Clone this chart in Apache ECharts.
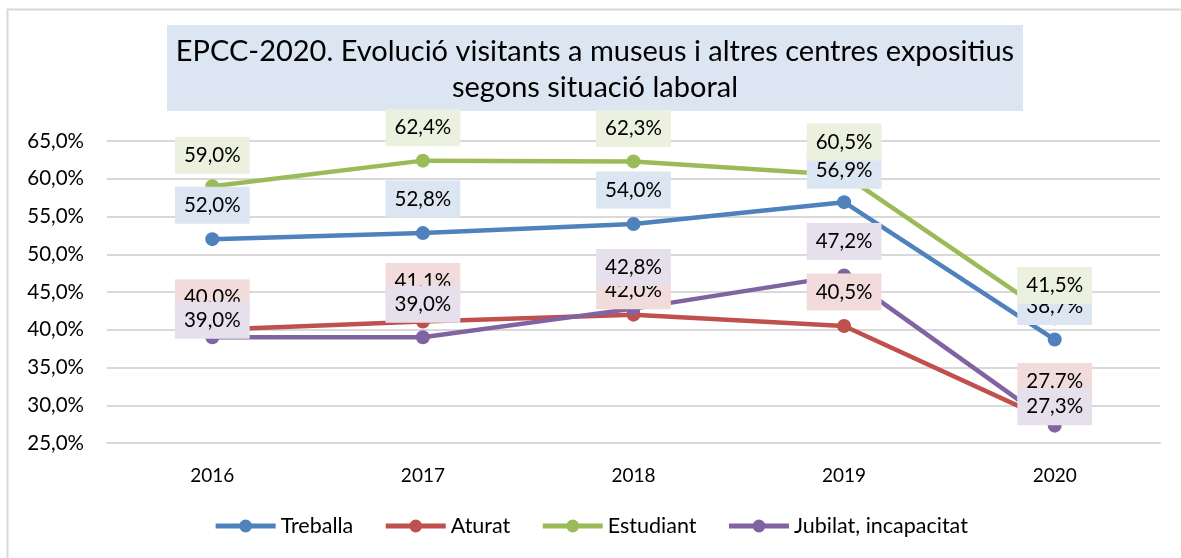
<!DOCTYPE html>
<html>
<head>
<meta charset="utf-8">
<script src="https://cdn.jsdelivr.net/npm/echarts@6/dist/echarts.min.js"></script>
<style>
	html, body { margin: 0; padding: 0; background: #fff; }
	#chart { width: 1181px; height: 558px; }
</style>
</head>
<body>
<div id="chart"></div>
<script>
// dades
var years = ['2016', '2017', '2018', '2019', '2020'];
var treballa = [52.0, 52.8, 54.0, 56.9, 38.7];
var aturat = [40.0, 41.1, 42.0, 40.5, 27.7];
var estudiant = [59.0, 62.4, 62.3, 60.5, 41.5];
var jubilat = [39.0, 39.0, 42.8, 47.2, 27.3];

// desplaçament vertical de cada etiqueta (px)
var offTreballa = [-34, -34, -34, -32, -33];
var offAturat = [-32, -40, -24, -34, -41];
var offEstudiant = [-31, -33, -33, -33, -33];
var offJubilat = [-17, -33, -41, -34, -19];

var FONT = 'Lato';

function fmt(v) {
	return v.toFixed(1).replace('.', ',') + '%';
}

function makeSeries(name, values, offsets, color, bg) {
	var data = [];
	for (var i = 0; i < values.length; i++) {
		data.push({
			value: values[i],
			label: {offset: [0, offsets[i]]}
		});
	}
	return {
		name: name,
		type: 'line',
		data: data,
		symbol: 'circle',
		symbolSize: 14,
		lineStyle: {color: color, width: 4.5},
		itemStyle: {color: color},
		label: {
			show: true,
			position: 'inside',
			formatter: function (p) { return fmt(p.value); },
			color: '#000',
			fontFamily: FONT,
			fontSize: 20.5,
			lineHeight: 25,
			backgroundColor: bg,
			padding: [6, 9, 6, 9]
		},
		emphasis: {disabled: true},
		animation: false
	};
}

var chart = echarts.init(document.getElementById('chart'));
var option = {
	backgroundColor: '#fff',
	textStyle: {fontFamily: FONT},
	graphic: [
		{
			type: 'rect',
			shape: {x: 7.5, y: 9.5, width: 1200, height: 600},
			style: {fill: null, stroke: '#D9D9D9', lineWidth: 2},
			silent: true
		},
		{
			type: 'rect',
			shape: {x: 167, y: 25, width: 856, height: 86},
			style: {fill: '#DCE6F2'},
			silent: true
		},
		{
			type: 'text',
			x: 595,
			y: 70,
			style: {
				text: 'EPCC-2020. Evolució visitants a museus i altres centres expositius\nsegons situació laboral',
				fontFamily: FONT,
				fontSize: 29,
				lineHeight: 36,
				fill: '#000',
				align: 'center',
				verticalAlign: 'middle'
			},
			silent: true
		}
	],
	legend: {
		bottom: 16,
		left: 'center',
		itemWidth: 60,
		itemHeight: 16,
		itemGap: 30,
		lineStyle: {width: 5},
		textStyle: {fontFamily: FONT, fontSize: 21.5, color: '#000'},
		data: ['Treballa', 'Aturat', 'Estudiant', 'Jubilat, incapacitat']
	},
	grid: {left: 107, right: 21, top: 141, bottom: 115},
	xAxis: {
		type: 'category',
		data: years,
		boundaryGap: true,
		axisLine: {lineStyle: {color: '#D9D9D9', width: 2}},
		axisTick: {show: false},
		axisLabel: {color: '#000', fontFamily: FONT, fontSize: 19, margin: 23}
	},
	yAxis: {
		type: 'value',
		min: 25,
		max: 65,
		interval: 5,
		axisLine: {show: false},
		axisTick: {show: false},
		splitLine: {lineStyle: {color: '#D9D9D9', width: 2}},
		axisLabel: {
			color: '#000',
			fontFamily: FONT,
			fontSize: 20.5,
			margin: 23,
			formatter: function (v) { return fmt(v); }
		}
	},
	series: [
		makeSeries('Treballa', treballa, offTreballa, '#4F81BD', '#DCE6F2'),
		makeSeries('Aturat', aturat, offAturat, '#C0504D', '#F2DCDB'),
		makeSeries('Estudiant', estudiant, offEstudiant, '#9BBB59', '#EBF1DE'),
		makeSeries('Jubilat, incapacitat', jubilat, offJubilat, '#8064A2', '#E6E0EC')
	]
};
chart.setOption(option);
</script>
</body>
</html>
